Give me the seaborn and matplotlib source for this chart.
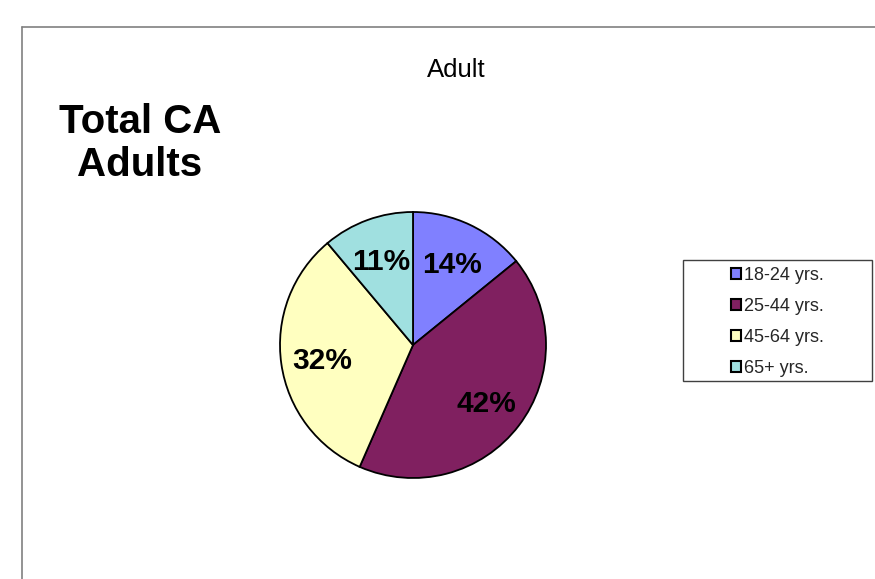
import matplotlib
matplotlib.use("Agg")
import matplotlib.pyplot as plt
import seaborn as sns
from matplotlib.patches import Rectangle
from matplotlib.lines import Line2D

# data
groups = ['18-24 yrs.', '25-44 yrs.', '45-64 yrs.', '65+ yrs.']
shares = [14, 42, 32, 11]
colors = ['#8080FF', '#802060', '#FFFFC0', '#A0E0E0']

sns.set_theme(style="white")
plt.rcParams['font.family'] = ['Liberation Sans', 'DejaVu Sans']

W, H = 875, 579
fig = plt.figure(figsize=(W / 100, H / 100), dpi=100)

def fx(px):
    return px / W

def fy(py):
    return 1 - py / H

# outer chart border (left and top only visible)
fig.add_artist(Line2D([fx(22), fx(22)], [0, fy(27)], color='#808080', lw=1.2))
fig.add_artist(Line2D([fx(22), 1], [fy(27), fy(27)], color='#808080', lw=1.2))

fig.text(fx(456), fy(70), 'Adult', ha='center', va='center', fontsize=18.5, color='black')
fig.text(fx(140), fy(143.5), 'Total CA\nAdults', ha='center', va='center',
         fontsize=29, fontweight='bold', color='black', linespacing=1.19)

# pie axes
cx, cy, r = 413, 345, 133
pad = 1.1
ax = fig.add_axes([fx(cx - r * pad), fy(cy + r * pad), 2 * r * pad / W, 2 * r * pad / H])
wedges, texts, autotexts = ax.pie(
    shares, colors=sns.color_palette(colors), startangle=90, counterclock=False,
    autopct='%1.0f%%', pctdistance=0.69,
    wedgeprops=dict(edgecolor='black', linewidth=1.3),
    textprops=dict(fontsize=21.5, fontweight='bold', color='black'))
for t in autotexts:
    x, y = t.get_position()
    t.set_position((x, y - 3 / r))
ax.set_xlim(-pad, pad)
ax.set_ylim(-pad, pad)
ax.set_aspect('equal')
ax.axis('off')

# legend box
fig.add_artist(Rectangle((fx(683), fy(381)), fx(872) - fx(683), fy(260) - fy(381),
                         transform=fig.transFigure, fill=False, edgecolor='#404040', lw=1))
leg = fig.legend(wedges, groups, loc='upper left', bbox_to_anchor=(fx(731), fy(267)),
                 frameon=False, fontsize=13, handlelength=0.55, handleheight=0.55,
                 handletextpad=0.15, labelspacing=0.78, borderpad=0, borderaxespad=0)
for h in leg.legend_handles:
    h.set_edgecolor('black')
    h.set_linewidth(1.5)

fig.savefig('out.png', dpi=100)
